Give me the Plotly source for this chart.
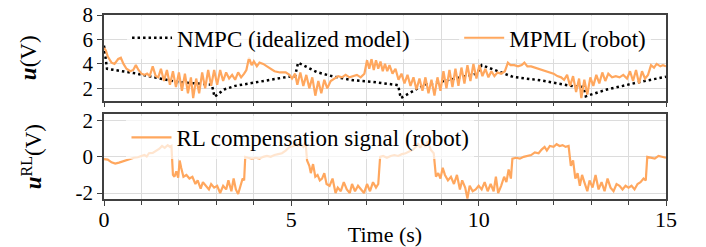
import plotly.graph_objects as go

# ---------------- DATA ----------------
t_nmpc = [0.00, 0.08, 0.79, 1.95, 2.75, 2.88, 2.95, 3.20, 3.50, 4.35, 4.88, 5.10, 5.18, 5.68, 6.10, 6.65,
          7.19, 7.82, 7.85, 7.92, 8.52, 9.24, 9.86, 9.95, 10.08, 10.57, 10.92, 11.64, 12.53, 12.80, 12.86,
          13.42, 14.30, 15.00]
u_nmpc = [5.5, 3.6, 3.25, 2.52, 2.33, 2.3, 1.3, 1.9, 2.2, 2.66, 2.93, 3.0, 4.1, 3.33, 2.98, 2.66,
          2.52, 2.27, 2.25, 1.2, 2.25, 2.71, 3.14, 3.2, 3.9, 3.33, 2.93, 2.66, 2.17, 2.12, 1.35,
          1.9, 2.52, 2.95]

t_mpml = [0.00, 0.05, 0.10, 0.20, 0.28, 0.38, 0.45, 0.52, 0.60, 0.70, 0.78, 0.85, 0.92, 1.00, 1.08, 1.15,
          1.22, 1.30, 1.38, 1.45, 1.52, 1.60, 1.68, 1.76, 1.84, 1.92, 2.00, 2.08, 2.16, 2.24, 2.32, 2.38,
          2.46, 2.54, 2.62, 2.70, 2.78, 2.86, 2.94, 3.02, 3.10, 3.18, 3.26, 3.34, 3.42, 3.50, 3.58, 3.66,
          3.74, 3.80, 3.87, 3.94, 4.00, 4.08, 4.15, 4.25, 4.35, 4.45, 4.55, 4.70, 4.85, 4.95, 5.02, 5.10,
          5.16, 5.24, 5.32, 5.40, 5.48, 5.56, 5.64, 5.72, 5.80, 5.88, 5.96, 6.05, 6.15, 6.25, 6.35, 6.45,
          6.55, 6.65, 6.75, 6.85, 6.95, 7.02, 7.08, 7.14, 7.20, 7.26, 7.32, 7.38, 7.44, 7.50, 7.56, 7.62,
          7.70, 7.78, 7.86, 7.94, 8.02, 8.10, 8.18, 8.26, 8.34, 8.42, 8.50, 8.58, 8.66, 8.74, 8.82, 8.90,
          8.98, 9.06, 9.14, 9.22, 9.30, 9.38, 9.46, 9.54, 9.62, 9.70, 9.78, 9.86, 9.94, 10.02, 10.10, 10.18,
          10.26, 10.34, 10.42, 10.50, 10.60, 10.70, 10.78, 10.85, 10.95, 11.05, 11.15, 11.22, 11.30, 11.40,
          11.50, 11.60, 11.75, 11.90, 12.00, 12.10, 12.20, 12.28, 12.36, 12.44, 12.52, 12.60, 12.68, 12.74,
          12.82, 12.90, 12.98, 13.06, 13.14, 13.22, 13.30, 13.38, 13.46, 13.56, 13.66, 13.76, 13.86, 13.96,
          14.04, 14.12, 14.20, 14.28, 14.36, 14.44, 14.52, 14.60, 14.68, 14.75, 14.85, 14.92, 15.00]
u_mpml = [5.3, 5.1, 4.6, 4.1, 4.0, 4.4, 4.5, 4.0, 3.6, 3.4, 3.5, 3.9, 3.5, 3.2, 3.1, 3.2,
          3.0, 3.8, 3.0, 2.9, 3.6, 2.6, 3.5, 2.3, 3.4, 2.1, 3.3, 1.8, 3.2, 1.6, 2.9, 1.2,
          2.8, 1.6, 3.3, 2.0, 3.5, 2.2, 3.5, 2.3, 3.5, 2.6, 3.3, 2.8, 3.1, 2.7, 3.3, 2.9,
          3.2, 3.5, 4.5, 3.9, 4.2, 3.8, 4.1, 4.0, 3.8, 3.6, 3.4, 3.3, 3.3, 3.1, 2.8, 3.2,
          2.3, 3.3, 2.2, 3.1, 2.0, 2.9, 1.4, 2.6, 1.6, 2.7, 2.0, 2.6, 2.8, 3.0, 2.9, 3.1,
          2.9, 3.0, 3.1, 2.9, 3.2, 4.3, 3.6, 4.4, 3.5, 4.3, 3.6, 4.2, 3.4, 4.0, 3.4, 3.9,
          3.2, 3.6, 2.7, 3.2, 2.4, 3.1, 2.2, 2.9, 1.9, 2.8, 1.8, 2.9, 1.6, 2.7, 1.4, 2.9,
          1.8, 3.4, 2.0, 3.5, 2.1, 3.6, 2.2, 3.7, 2.4, 3.9, 2.6, 4.0, 2.8, 3.9, 3.0, 3.6,
          2.9, 3.4, 3.0, 3.3, 3.2, 3.4, 4.1, 3.9, 3.9, 3.8, 3.9, 4.1, 3.8, 3.8,
          3.7, 3.6, 3.5, 3.3, 3.2, 3.0, 2.9, 2.7, 3.1, 2.2, 3.0, 1.7, 2.8, 1.2,
          2.7, 1.5, 2.9, 2.2, 3.1, 2.4, 3.3, 2.6, 3.2, 2.9, 3.0, 2.9, 3.1, 2.8,
          3.4, 2.6, 3.5, 2.4, 3.4, 2.8, 3.1, 3.9, 3.7, 4.0, 3.8, 3.9, 3.8]

t_rl = [0.00, 0.10, 0.20, 0.30, 0.40, 0.50, 0.60, 0.70, 0.80, 0.90, 1.00, 1.08, 1.14, 1.20, 1.30, 1.40,
        1.48, 1.55, 1.62, 1.70, 1.76, 1.80, 1.84, 1.88, 1.93, 1.98, 2.02, 2.06, 2.12, 2.20, 2.28, 2.36,
        2.44, 2.50, 2.58, 2.64, 2.72, 2.80, 2.86, 2.94, 3.02, 3.10, 3.18, 3.26, 3.32, 3.40, 3.46, 3.52,
        3.58, 3.64, 3.70, 3.74, 3.77, 3.85, 3.95, 4.05, 4.15, 4.25, 4.35, 4.45, 4.55, 4.65, 4.75, 4.85,
        4.95, 5.05, 5.12, 5.18, 5.25, 5.32, 5.38, 5.42, 5.48, 5.52, 5.58, 5.64, 5.70, 5.76, 5.82, 5.88,
        5.94, 6.02, 6.10, 6.18, 6.24, 6.32, 6.40, 6.48, 6.56, 6.62, 6.70, 6.78, 6.86, 6.94, 7.02, 7.10,
        7.18, 7.26, 7.32, 7.37, 7.45, 7.55, 7.65, 7.75, 7.85, 7.95, 8.05, 8.15, 8.25, 8.32, 8.38, 8.44,
        8.52, 8.58, 8.64, 8.72, 8.80, 8.86, 8.92, 8.98, 9.04, 9.10, 9.18, 9.26, 9.34, 9.42, 9.50, 9.56,
        9.64, 9.70, 9.76, 9.84, 9.92, 10.00, 10.08, 10.16, 10.24, 10.32, 10.40, 10.46, 10.52, 10.60,
        10.68, 10.74, 10.80, 10.86, 10.90, 11.00, 11.10, 11.20, 11.30, 11.40, 11.50, 11.60, 11.68, 11.76,
        11.82, 11.90, 12.00, 12.08, 12.16, 12.24, 12.32, 12.40, 12.46, 12.52, 12.58, 12.64, 12.70, 12.76,
        12.82, 12.90, 12.96, 13.04, 13.12, 13.20, 13.28, 13.36, 13.44, 13.52, 13.60, 13.68, 13.76, 13.84,
        13.92, 14.00, 14.08, 14.16, 14.24, 14.32, 14.40, 14.46, 14.50, 14.60, 14.70, 14.80, 14.90, 15.00]
u_rl = [-0.12, -0.15, -0.30, -0.37, -0.32, -0.25, -0.15, -0.10, -0.05, -0.02, 0.05, 0.10, 0.02, 0.20, 0.22, 0.35,
        0.45, 0.60, 0.50, 0.65, 0.55, 0.60, -1.0, -1.1, -0.8, -1.15, -0.2, -0.6, -1.1, -1.0, -1.2, -1.1,
        -1.5, -1.3, -1.75, -1.4, -1.6, -1.8, -1.5, -1.7, -1.6, -2.0, -1.6, -1.8, -1.3, -1.9, -1.2, -1.8,
        -2.05, -1.6, -1.2, -1.3, 0.0, -0.05, -0.1, -0.05, -0.1, 0.0, 0.05, 0.0, 0.1, 0.15, 0.2, 0.35,
        0.55, 0.6, 0.75, 0.6, 0.7, 0.55, 0.8, -0.2, -0.5, -0.9, -0.4, -1.1, -1.0, -1.3, -1.2, -0.9,
        -1.5, -1.6, -1.2, -2.0, -1.7, -1.9, -1.4, -1.8, -2.0, -1.5, -1.9, -1.6, -1.8, -2.0, -1.5, -1.9,
        -1.4, -1.7, -1.5, 0.0, 0.05, -0.05, 0.05, 0.1, 0.05, 0.15, 0.2, 0.3, 0.4, 0.55, 0.75, 0.5,
        0.8, 0.55, 0.85, 0.4, 0.2, -1.1, -0.9, -1.2, -0.6, -1.0, -1.3, -1.1, -1.5, -1.0, -1.8, -1.3,
        -1.7, -2.3, -1.6, -1.9, -1.8, -1.6, -1.8, -1.4, -1.9, -1.5, -1.9, -1.1, -2.0, -1.6,
        -1.1, -1.4, -0.7, -1.2, -0.1, -0.05, -0.1, 0.0, 0.05, 0.1, 0.25, 0.2, 0.4, 0.55,
        0.35, 0.6, 0.55, 0.7, 0.6, 0.65, 0.55, 0.6, -0.5, -0.2, -1.2, -0.9, -1.6, -1.0,
        -1.4, -1.9, -1.3, -1.7, -1.0, -1.8, -1.4, -1.9, -1.2, -1.7, -1.9, -1.5, -1.6, -1.8,
        -1.6, -1.7, -1.6, -1.8, -1.5, -1.4, -1.2, -1.3, 0.0, -0.05, -0.1, 0.05, 0.0, -0.05]

x_tickvals = [0, 5, 10, 15]
x_ticktext = ["0", "5", "10", "15"]
y1_tickvals = [2, 4, 6, 8]
y1_ticktext = ["2", "4", "6", "8"]
y2_tickvals = [-2, 0, 2]
y2_ticktext = ["-2", "0", "2"]

# ---------------- STYLE ----------------
FONT = "Liberation Serif"
ORANGE = "#ffa75e"
FRAME = "#404040"
GRID = "#dcdcdc"

fig = go.Figure()
fig.add_trace(go.Scatter(x=t_nmpc, y=u_nmpc, mode="lines", name="NMPC (idealized model)",
                         line=dict(color="black", width=2.5, dash="2.5px,3px"),
                         xaxis="x", yaxis="y", legend="legend"))
fig.add_trace(go.Scatter(x=t_mpml, y=u_mpml, mode="lines", name="MPML (robot)",
                         line=dict(color=ORANGE, width=2.2),
                         xaxis="x", yaxis="y", legend="legend3"))
fig.add_trace(go.Scatter(x=t_rl, y=u_rl, mode="lines", name="RL compensation signal (robot)",
                         line=dict(color=ORANGE, width=2.2),
                         xaxis="x2", yaxis="y2", legend="legend2"))

common_x = dict(range=[0, 15], showline=True, linecolor=FRAME, linewidth=1.5, mirror=True,
                ticks="outside", ticklen=5, tickcolor=FRAME, tickwidth=1.2,
                tickvals=x_tickvals, ticktext=x_ticktext,
                showgrid=True, gridcolor=GRID, gridwidth=1, zeroline=False,
                minor=dict(dtick=1, ticks="outside", ticklen=4, tickcolor=FRAME, showgrid=True,
                           gridcolor=GRID, gridwidth=1),
                tickfont=dict(family=FONT, size=22, color="black"))
common_y = dict(showline=True, linecolor=FRAME, linewidth=1.5, mirror=True,
                ticks="outside", ticklen=5, tickcolor=FRAME, showgrid=True, gridcolor=GRID,
                zeroline=False, ticklabeloverflow="allow", tickfont=dict(family=FONT, size=21))
leg_common = dict(orientation="h", xanchor="left", yanchor="top",
                  bgcolor="rgba(255,255,255,0.7)", borderwidth=0, itemwidth=40,
                  font=dict(family=FONT, size=23, color="black"))
fig.update_layout(
    width=698, height=239,
    margin=dict(l=96, r=40, t=7, b=48, autoexpand=False),
    plot_bgcolor="white", paper_bgcolor="white",
    font=dict(family=FONT, size=22, color="black"),
    xaxis=dict(common_x, anchor="y", showticklabels=False, matches="x2"),
    xaxis2=dict(common_x, anchor="y2", ticklabelstandoff=-5,
                title=dict(text="Time (s)", font=dict(family=FONT, size=22), standoff=0)),
    yaxis=dict(common_y, domain=[0.535, 1.0], range=[1, 8], tickvals=y1_tickvals, ticktext=y1_ticktext,
               title=dict(text="<b><i>u</i></b>(V)", font=dict(family=FONT, size=23), standoff=39)),
    yaxis2=dict(common_y, domain=[0.0, 0.46], range=[-2.33, 2.35], tickvals=y2_tickvals,
                ticktext=y2_ticktext,
                title=dict(text="<b><i>u</i></b><sup>RL</sup>(V)", font=dict(family=FONT, size=23),
                           standoff=27)),
    legend=dict(leg_common, x=0.041, y=0.993),
    legend3=dict(leg_common, x=0.632, y=0.993),
    legend2=dict(leg_common, x=0.04, y=0.452),
    showlegend=True,
)

fig.write_html("out.html")
